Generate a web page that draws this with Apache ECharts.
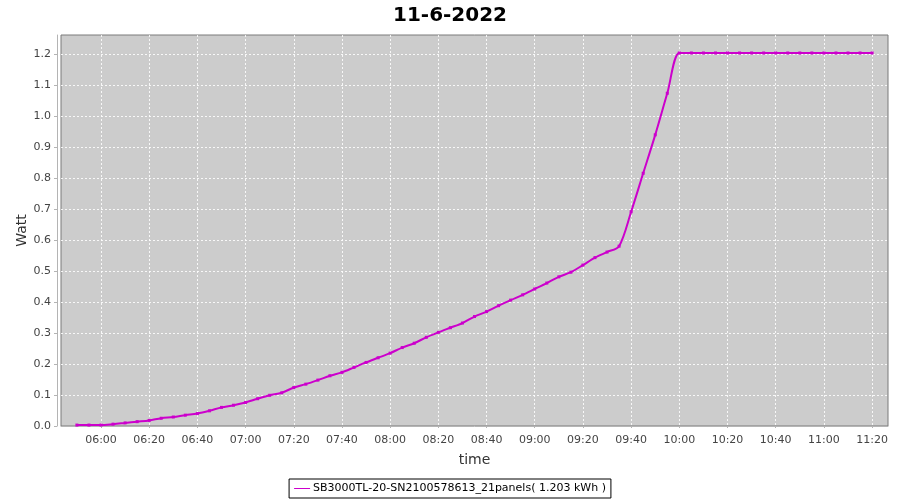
<!DOCTYPE html>
<html>
<head>
<meta charset="utf-8">
<title>11-6-2022</title>
<script src="https://cdn.jsdelivr.net/npm/echarts@6/dist/echarts.min.js"></script>
<style>
  html, body { margin: 0; padding: 0; background: #fff; }
  #chart { width: 900px; height: 500px; }
</style>
</head>
<body>
<div id="chart"></div>
<script>
// sample times (5 min steps) and watt values
var times = [
  '05:50', '05:55', '06:00', '06:05', '06:10', '06:15', '06:20', '06:25', '06:30', '06:35',
  '06:40', '06:45', '06:50', '06:55', '07:00', '07:05', '07:10', '07:15', '07:20', '07:25',
  '07:30', '07:35', '07:40', '07:45', '07:50', '07:55', '08:00', '08:05', '08:10', '08:15',
  '08:20', '08:25', '08:30', '08:35', '08:40', '08:45', '08:50', '08:55', '09:00', '09:05',
  '09:10', '09:15', '09:20', '09:25', '09:30', '09:35', '09:40', '09:45', '09:50', '09:55',
  '10:00', '10:05', '10:10', '10:15', '10:20', '10:25', '10:30', '10:35', '10:40', '10:45',
  '10:50', '10:55', '11:00', '11:05', '11:10', '11:15', '11:20'
];
var watts = [
  0.003, 0.003, 0.003, 0.006, 0.010, 0.014, 0.018, 0.025, 0.029, 0.035,
  0.040, 0.049, 0.060, 0.067, 0.076, 0.088, 0.099, 0.107, 0.124, 0.135,
  0.148, 0.162, 0.173, 0.189, 0.205, 0.220, 0.235, 0.253, 0.267, 0.286,
  0.302, 0.317, 0.332, 0.353, 0.369, 0.388, 0.406, 0.423, 0.442, 0.461,
  0.481, 0.496, 0.519, 0.543, 0.561, 0.580, 0.691, 0.815, 0.939, 1.073,
  1.203, 1.203, 1.203, 1.203, 1.203, 1.203, 1.203, 1.203, 1.203, 1.203,
  1.203, 1.203, 1.203, 1.203, 1.203, 1.203, 1.203
];
var xTickLabels = ['06:00', '06:20', '06:40', '07:00', '07:20', '07:40', '08:00', '08:20', '08:40',
  '09:00', '09:20', '09:40', '10:00', '10:20', '10:40', '11:00', '11:20'];
var yTickLabels = ['0.0', '0.1', '0.2', '0.3', '0.4', '0.5', '0.6', '0.7', '0.8', '0.9', '1.0', '1.1', '1.2'];
var seriesName = 'SB3000TL-20-SN2100578613_21panels( 1.203 kWh )';

function toMinutes(s) {
  var p = s.split(':');
  return parseInt(p[0], 10) * 60 + parseInt(p[1], 10);
}
function fmtTime(v) {
  var h = Math.floor(v / 60), m = Math.round(v - h * 60);
  return (h < 10 ? '0' : '') + h + ':' + (m < 10 ? '0' : '') + m;
}

var points = times.map(function (t, i) { return [toMinutes(t), watts[i]]; });
var xTicks = xTickLabels.map(toMinutes);
var yTicks = yTickLabels.map(function (s) { return parseFloat(s); });

var font = 'DejaVu Sans';
var chart = echarts.init(document.getElementById('chart'));

var option = {
  animation: false,
  backgroundColor: '#ffffff',
  textStyle: { fontFamily: font },
  title: {
    text: '11-6-2022',
    left: 'center',
    top: 3,
    padding: [3, 5],
    textStyle: { fontFamily: font, fontSize: 20, fontWeight: 'bold', color: '#000' }
  },
  legend: {
    data: [seriesName],
    bottom: 2,
    left: 'center',
    padding: [4, 5],
    borderColor: '#000',
    borderWidth: 1,
    borderRadius: 0,
    itemWidth: 16,
    itemHeight: 8,
    itemGap: 4,
    icon: 'path://M0,3.5 L16,3.5 L16,4.5 L0,4.5 Z',
    textStyle: { fontFamily: font, fontSize: 11, color: '#000', padding: [0, 0, 0, -2] }
  },
  grid: {
    left: 61, right: 12, top: 35, bottom: 74,
    show: true,
    backgroundColor: '#cccccc',
    borderColor: '#7a7a7a',
    borderWidth: 1,
    containLabel: false,
    outerBoundsMode: 'none'
  },
  xAxis: {
    type: 'value',
    min: 343.4,
    max: 686.6,
    offset: 4,
    name: 'time',
    nameLocation: 'middle',
    nameGap: 23,
    nameMoveOverlap: false,
    nameTextStyle: { fontFamily: font, fontSize: 14, color: '#333' },
    axisLine: { show: true, lineStyle: { color: '#b4b4b4', width: 1 } },
    axisTick: { show: true, length: 2, customValues: xTicks, lineStyle: { color: '#b4b4b4' } },
    axisLabel: {
      customValues: xTicks,
      margin: 5,
      fontFamily: font, fontSize: 11, color: '#444',
      formatter: fmtTime
    },
    splitLine: { show: true, lineStyle: { color: '#ffffff', type: [2, 2], width: 1, opacity: 0.85 } }
  },
  yAxis: {
    type: 'value',
    min: 0,
    max: 1.261,
    offset: 4,
    name: 'Watt',
    nameLocation: 'middle',
    nameGap: 28,
    nameMoveOverlap: false,
    nameTextStyle: { fontFamily: font, fontSize: 14, color: '#333' },
    axisLine: { show: true, lineStyle: { color: '#b4b4b4', width: 1 } },
    axisTick: { show: true, length: 3, customValues: yTicks, lineStyle: { color: '#b4b4b4' } },
    axisLabel: {
      customValues: yTicks,
      margin: 6,
      fontFamily: font, fontSize: 11, color: '#444',
      formatter: function (v) { return v.toFixed(1); }
    },
    splitLine: { show: true, lineStyle: { color: '#ffffff', type: [2, 2], width: 1, opacity: 0.85 } }
  },
  series: [
    {
      name: seriesName,
      type: 'line',
      data: points,
      smooth: 0.3,
      symbol: 'rect',
      symbolSize: 3,
      showSymbol: true,
      lineStyle: { color: '#cc00cc', width: 2 },
      itemStyle: { color: '#cc00cc' }
    }
  ]
};
chart.setOption(option);
</script>
</body>
</html>
